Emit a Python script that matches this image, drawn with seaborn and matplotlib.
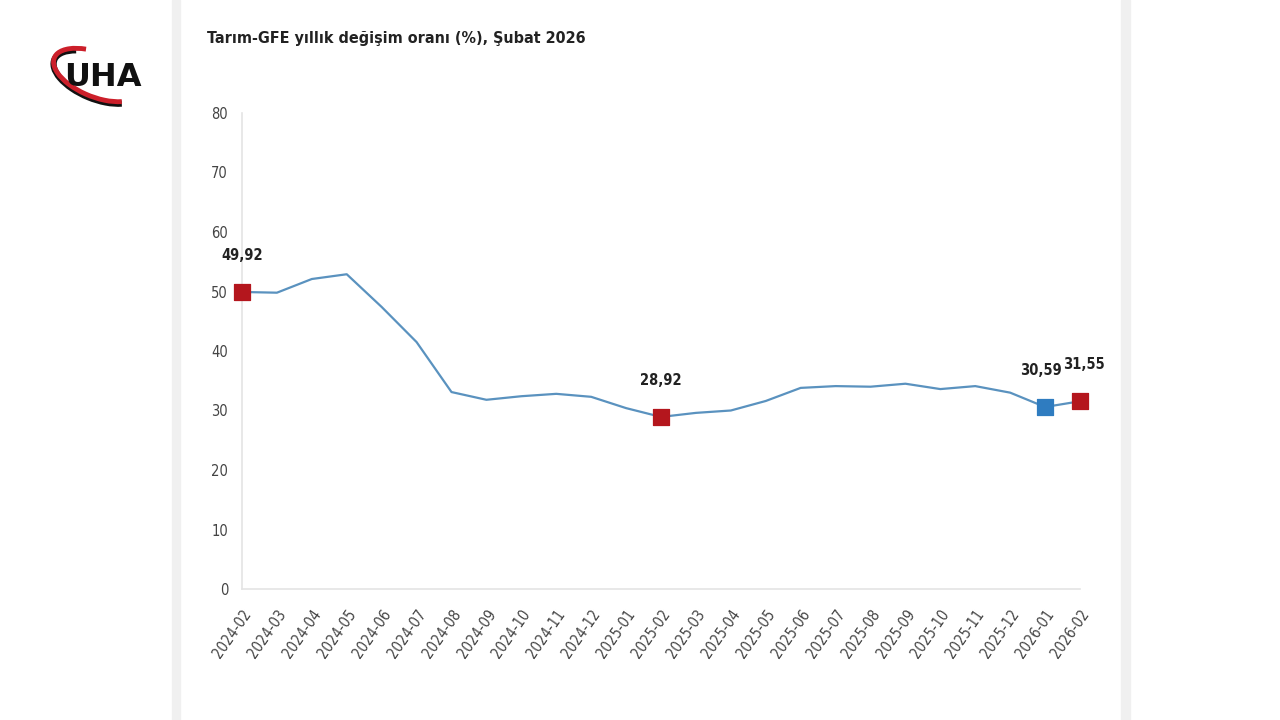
import numpy as np
import pandas as pd
import matplotlib
matplotlib.use('Agg')
import matplotlib.pyplot as plt
from matplotlib.patches import Arc, Rectangle
import seaborn as sns

# monthly annual change of agricultural input prices (%)
months = ['2024-02', '2024-03', '2024-04', '2024-05', '2024-06', '2024-07', '2024-08',
          '2024-09', '2024-10', '2024-11', '2024-12', '2025-01', '2025-02', '2025-03',
          '2025-04', '2025-05', '2025-06', '2025-07', '2025-08', '2025-09', '2025-10',
          '2025-11', '2025-12', '2026-01', '2026-02']
values = [49.92, 49.8, 52.1, 52.9, 47.4, 41.5, 33.1, 31.8, 32.4, 32.8, 32.3, 30.4,
          28.92, 29.6, 30.0, 31.6, 33.8, 34.1, 34.0, 34.5, 33.6, 34.1, 33.0, 30.59, 31.55]

# highlighted points
hl_months = ['2024-02', '2025-02', '2026-01', '2026-02']
hl_colors = ['#b4161d', '#b4161d', '#2f7cc0', '#b4161d']
hl_shift = [0, 0, -3, 3]  # small label nudges so neighbours don't collide

sns.set_theme(style='white')
plt.rcParams['font.family'] = ['DejaVu Sans']
plt.rcParams['font.stretch'] = 'condensed'

df = pd.DataFrame({'month': months, 'value': values})
df['pos'] = np.arange(len(df))

fig = plt.figure(figsize=(12.8, 7.2), dpi=100)
fig.patch.set_facecolor('white')

# card edges (light grey strips)
fig.patches.append(Rectangle((172 / 1280, 0), 8 / 1280, 1, transform=fig.transFigure,
                             color='#f0f0f0', zorder=0))
fig.patches.append(Rectangle((1121 / 1280, 0), 9 / 1280, 1, transform=fig.transFigure,
                             color='#f0f0f0', zorder=0))

ax = fig.add_axes([242 / 1280, 1 - 589 / 720, (1080 - 242) / 1280, (589 - 113) / 720])
ax.set_facecolor('none')

sns.lineplot(data=df, x='pos', y='value', ax=ax, color='#5a92bf', linewidth=1.6)

hl = df[df['month'].isin(hl_months)].copy()
hl['color'] = hl_colors
hl['shift'] = hl_shift
for _, r in hl.iterrows():
    sns.scatterplot(x=[r['pos']], y=[r['value']], ax=ax, marker='s', s=125,
                    color=r['color'], edgecolor=r['color'], zorder=5, clip_on=False)
    ax.annotate(f"{r['value']:.2f}".replace('.', ','), (r['pos'], r['value']),
                xytext=(r['shift'], 21), textcoords='offset points', ha='center',
                va='bottom', fontsize=10.5, fontweight='bold', color='#222222')

ax.set_xlim(0, len(months) - 1)
ax.set_ylim(0, 80)
ax.set_yticks(range(0, 81, 10))
ax.set_xticks(df['pos'])
ax.set_xticklabels(months, rotation=55, ha='right', rotation_mode='anchor')
ax.tick_params(axis='both', labelsize=10.5, colors='#444444', length=0)
ax.tick_params(axis='y', pad=10)
ax.tick_params(axis='x', pad=13)
ax.set_xlabel('')
ax.set_ylabel('')
for s in ['top', 'right']:
    ax.spines[s].set_visible(False)
for s in ['left', 'bottom']:
    ax.spines[s].set_color('#e4e4e4')
    ax.spines[s].set_linewidth(1.2)

fig.text(207 / 1280, 1 - 38 / 720, 'Tarım-GFE yıllık değişim oranı (%), Şubat 2026',
         fontsize=11.5, fontweight='bold', color='#222222', va='center', ha='left')

# UHA logo
logo = fig.add_axes([45 / 1280, 1 - 110 / 720, 105 / 1280, 70 / 720])
logo.set_xlim(0, 105)
logo.set_ylim(0, 70)
logo.axis('off')
logo.add_patch(Arc((52, 33), 92, 44, angle=-22, theta1=150, theta2=335,
                   color='#111111', linewidth=4.5))
logo.add_patch(Arc((52, 35), 92, 44, angle=-22, theta1=135, theta2=335,
                   color='#cc1f2a', linewidth=3.5))
logo.text(58, 32, 'UHA', fontsize=23, fontweight='heavy', color='#111111',
          ha='center', va='center', fontstretch='normal')

fig.savefig('out.png', dpi=100)
